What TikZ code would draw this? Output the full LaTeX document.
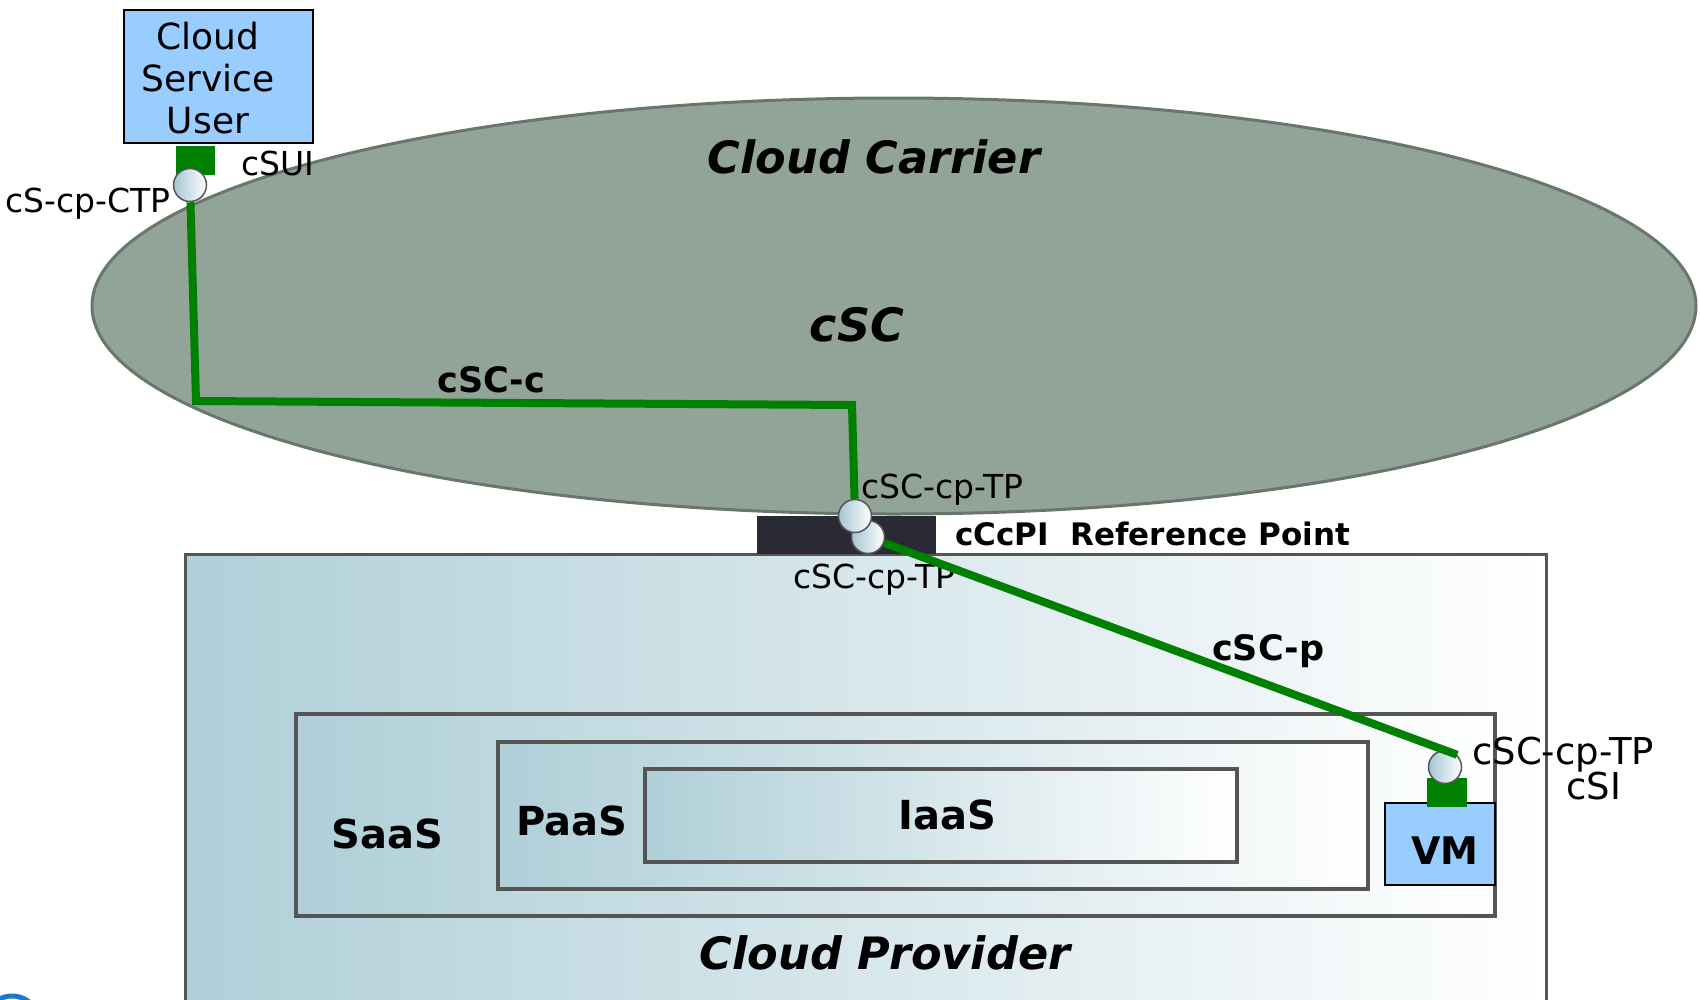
\documentclass[tikz,border=0pt]{standalone}
\usepackage{fontspec}
\setmainfont{DejaVu Sans}
\usepackage{xcolor}

\definecolor{carrierFill}{RGB}{146,163,152}
\definecolor{carrierLine}{RGB}{104,118,108}
\definecolor{userBlue}{RGB}{153,204,255}
\definecolor{linkGreen}{RGB}{0,128,0}
\definecolor{layerTeal}{RGB}{176,207,216}
\definecolor{frameGray}{RGB}{85,85,85}
\definecolor{portDark}{RGB}{42,42,53}
\definecolor{tpBlue}{RGB}{165,198,211}
\definecolor{arcBlue}{RGB}{30,120,200}

\tikzset{
  tpCircle/.style={circle, draw=frameGray, line width=1.5, left color=tpBlue, right color=white, minimum size=33, inner sep=0},
  plugSquare/.style={rectangle, fill=linkGreen, minimum width=39, minimum height=29, inner sep=0},
  userBox/.style={rectangle, draw=black, line width=2, fill=userBlue, inner sep=0},
  layerBox/.style={draw=frameGray, line width=3.5, left color=layerTeal, right color=white},
  link/.style={draw=linkGreen, line width=8},
  smallLabel/.style={inner sep=0, font=\fontsize{33}{39}\selectfont},
  bigLabel/.style={inner sep=0, font=\fontsize{37}{44}\selectfont},
  boldLabel/.style={inner sep=0, font=\fontsize{35}{42}\selectfont\bfseries},
  layerLabel/.style={inner sep=0, font=\fontsize{40}{48}\selectfont\bfseries},
  titleLabel/.style={inner sep=0, font=\fontsize{44.6}{54}\selectfont\bfseries\itshape}
}

\begin{document}
\begin{tikzpicture}[x=1pt,y=-1pt]
  \useasboundingbox (0,0) rectangle (1700,999);

  % Carrier
  \draw[fill=carrierFill, draw=carrierLine, line width=3] (894,306) ellipse [x radius=802, y radius=208];
  \node[titleLabel] (carrierTitle) at (874,157) {Cloud Carrier};
  \node[titleLabel, font=\fontsize{46}{54}\selectfont\bfseries\itshape] (cscTitle) at (857,325) {cSC};

  % Provider
  \draw[layerBox, line width=3] (185,554) rectangle (1546,1014);
  \node[titleLabel] (providerTitle) at (885,953) {Cloud Provider};

  % Port
  \draw[fill=portDark, draw=none] (757,516) rectangle (936,554);
  \node[boldLabel, font=\fontsize{31}{37}\selectfont\bfseries, anchor=west] (refPoint) at (955,534) {cCcPI\ \ Reference Point};

  % Layers
  \draw[layerBox] (296,714) rectangle (1495,916);
  \draw[layerBox] (498,742) rectangle (1368,889);
  \draw[layerBox] (645,769) rectangle (1237,862);
  \node[layerLabel] (saas) at (387,834) {SaaS};
  \node[layerLabel] (paas) at (572,821) {PaaS};
  \node[layerLabel] (iaas) at (947,815) {IaaS};

  % User
  \node[userBox, minimum width=189, minimum height=133] (user) at (218.5,76) {};
  \node[align=center, inner sep=0, font=\fontsize{36}{42}\selectfont] (userText) at (208,78) {Cloud\\Service\\User};
  \node[plugSquare] (plugUser) at (195.5,160.5) {};
  \node[tpCircle] (tpUser) at (190,185) {};
  \node[smallLabel, anchor=east] (lblUserTp) at (171,204) {cS-cp-CTP};
  \node[smallLabel, anchor=west] (lblUserIf) at (241,163) {cSUI};

  % VM
  \node[userBox, minimum width=110, minimum height=82] (vm) at (1440,844) {};
  \node[layerLabel, font=\fontsize{38}{46}\selectfont\bfseries] (vmText) at (1445,851) {VM};
  \node[plugSquare, minimum width=40] (plugVm) at (1447,792.5) {};
  \node[tpCircle] (tpVm) at (1445,767) {};
  \node[bigLabel, anchor=west] (lblVmTp) at (1472,755) {cSC-cp-TP};
  \node[bigLabel] (lblVmIf) at (1594,786) {cSI};

  % Reference point
  \node[tpCircle] (tpLow) at (868,537) {};
  \node[tpCircle] (tpUp) at (855,516) {};
  \node[smallLabel, anchor=west] (lblUpTp) at (861,490) {cSC-cp-TP};
  \node[smallLabel, anchor=west] (lblLowTp) at (793,580) {cSC-cp-TP};

  % Links
  \coordinate (bendA) at (196,401);
  \coordinate (bendB) at (852,405);
  \draw[link] (tpUser) -- (bendA) -- node[boldLabel, pos=0.45, above=6pt] (lblLinkC) {cSC-c} (bendB) -- (tpUp);
  \draw[link] (tpLow) -- node[boldLabel, pos=0.67, above=13pt] (lblLinkP) {cSC-p} (tpVm.north east);

  % Corner mark
  \draw[draw=arcBlue, line width=5] (12,1024) circle [radius=28];
\end{tikzpicture}
\end{document}
